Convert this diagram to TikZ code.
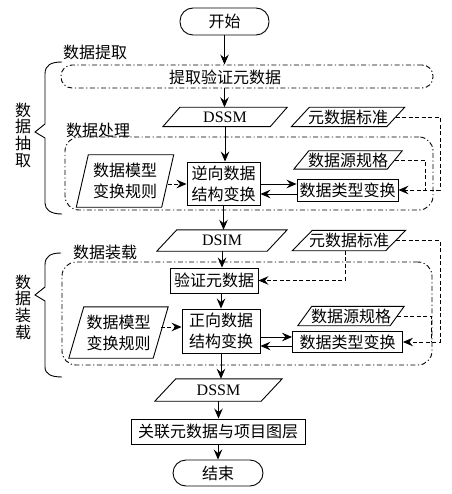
\documentclass[tikz,border=0pt]{standalone}
\usepackage{fontspec}
\setmainfont{Liberation Serif}
\newfontfamily\cjk{Noto Sans CJK SC}
\usetikzlibrary{arrows.meta}
\newcommand\paranode[7]{%
  \node[#1, minimum width=#4, minimum height=#5] (#2) at #3 {#7};
  \draw[line] ([xshift=-#6*0.5]#2.south west) -- ([xshift=-#6*0.5]#2.south east)
     -- ([xshift=#6*0.5]#2.north east) -- ([xshift=#6*0.5]#2.north west) -- cycle;
}
\begin{document}
\begin{tikzpicture}[x=1pt,y=-1pt,
  line/.style={line width=0.9pt},
  zh/.style={font=\cjk\fontsize{16}{21}\selectfont, inner sep=0pt, align=center},
  en/.style={font=\rmfamily\fontsize{16}{20}\selectfont, inner sep=0pt},
  box/.style={zh, draw, line},
  term/.style={box, rounded corners=13pt},
  group/.style={draw, line, dash pattern=on 5pt off 2.5pt on 1.2pt off 2.5pt, rounded corners=14pt},
  arr/.style={line, -{Stealth[length=10pt,width=8.5pt,inset=3.5pt]}},
  darr/.style={arr, dash pattern=on 4pt off 2.5pt},
  dline/.style={line, dash pattern=on 4pt off 2.5pt},
  vlab/.style={font=\cjk\fontsize{16}{16.7}\selectfont, inner sep=0pt, align=center},
]
\useasboundingbox (0,0) rectangle (451,494);

% group frames
\node[group, minimum width=372, minimum height=23, rounded corners=11pt] (extract) at (247,76.5) {};
\node[group, minimum width=368, minimum height=73] (proc) at (249,173.5) {};
\node[group, minimum width=370, minimum height=103] (load) at (247,313.5) {};
\node[zh] (extracttxt) at (225,77) {提取验证元数据};

% labels
\node[zh] (lbl1) at (95,52) {数据提取};
\node[zh] (lbl2) at (98,130) {数据处理};
\node[zh] (lbl3) at (105,252) {数据装载};
\node[vlab] (side1) at (23,135) {数\\据\\抽\\取};
\node[vlab] (side2) at (23,307) {数\\据\\装\\载};

% braces
\draw[line] (62,62) .. controls (51,62) and (45,65) .. (45,74) -- (45,124) -- (35,132) -- (45,138) -- (45,203) .. controls (45,210) and (51,214) .. (62,214);
\draw[line] (61,253) .. controls (51,253) and (45,256) .. (45,265) -- (45,287) -- (35,295) -- (45,301) -- (45,367) .. controls (45,374) and (51,377) .. (62,377);

% terminals and boxes
\node[term, minimum width=89, minimum height=27] (start) at (224.5,21.5) {开始};
\node[term, minimum width=90, minimum height=26] (stop) at (218,473) {结束};
\node[box, minimum width=73, minimum height=43] (inv) at (223.5,183.5) {逆向数据\\结构变换};
\node[box, minimum width=101, minimum height=22] (type1) at (347.5,190) {数据类型变换};
\node[box, minimum width=88, minimum height=25] (verify) at (214,280.5) {验证元数据};
\node[box, minimum width=78, minimum height=44] (fwd) at (221,331) {正向数据\\结构变换};
\node[box, minimum width=110, minimum height=21] (type2) at (347.5,342) {数据类型变换};
\node[box, minimum width=174, minimum height=25] (assoc) at (218,431.5) {关联元数据与项目图层};

% parallelograms
\paranode{en}{dssm1}{(225,117)}{107}{19}{17}{DSSM}
\paranode{zh}{std1}{(348,117)}{95}{19}{18}{元数据标准}
\paranode{zh}{rule1}{(125,181)}{85}{52}{12}{数据模型\\变换规则}
\paranode{zh}{src1}{(348,160)}{93}{18}{15}{数据源规格}
\paranode{en}{dsim}{(222,240.5)}{110}{21}{20}{DSIM}
\paranode{zh}{std2}{(349,240.5)}{93}{20}{20}{元数据标准}
\paranode{zh}{rule2}{(118.5,332.5)}{84}{51}{15}{数据模型\\变换规则}
\paranode{zh}{src2}{(351,316)}{92}{19}{14}{数据源规格}
\paranode{en}{dssm2}{(218.5,390)}{106}{22}{21}{DSSM}

% main flow
\draw[arr] (start.south) -- (start.south |- extract.north);
\draw[arr] (start.south |- extract.south) -- (start.south |- dssm1.north);
\draw[arr] (dssm1.south) -- (dssm1.south |- inv.north);
\draw[arr] (inv.south) -- (inv.south |- dsim.north);
\draw[arr] (dsim.south) -- (dsim.south |- verify.north);
\draw[arr] (fwd.north |- verify.south) -- (fwd.north);
\draw[arr] (fwd.south) -- (fwd.south |- dssm2.north);
\draw[arr] (dssm2.south) -- (dssm2.south |- assoc.north);
\draw[arr] (assoc.south) -- (assoc.south |- stop.north);

% processing block connectors
\coordinate (u1) at ([yshift=6pt]type1.west);
\coordinate (l1) at ([yshift=-4pt]type1.west);
\draw[darr] (u1 -| rule1.east) -- (u1 -| inv.west);
\draw[arr] (u1 -| inv.east) -- (u1);
\draw[arr] (l1) -- (l1 -| inv.east);
\coordinate (r1) at (440,117);
\coordinate (m1) at (425,160);
\draw[darr] (std1.east) -| (r1 |- type1.east) -- (type1.east);
\draw[dline] (src1.east) -| (m1 |- type1.east);

% loading block connectors
\coordinate (u2) at ([yshift=5pt]type2.west);
\coordinate (l2) at ([yshift=-4pt]type2.west);
\coordinate (w2) at ([yshift=4pt]fwd.west);
\draw[darr] (w2 -| rule2.east) -- (w2);
\draw[arr] (u2 -| fwd.east) -- (u2);
\draw[arr] (l2) -- (l2 -| fwd.east);
\draw[darr] ([xshift=-4pt]std2.south) |- (verify.east);
\coordinate (r2) at (440,240);
\coordinate (m2) at (431,316);
\draw[darr] (std2.east) -| (r2 |- type2.east) -- (type2.east);
\draw[dline] (src2.east) -| (m2 |- type2.east);
\end{tikzpicture}
\end{document}
